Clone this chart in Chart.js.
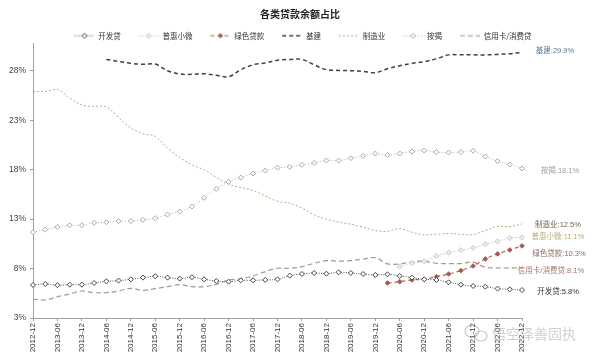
<!DOCTYPE html>
<html>
<head>
<meta charset="utf-8">
<script src="https://cdn.jsdelivr.net/npm/chart.js@4.4.1/dist/chart.umd.min.js"></script>
<style>
  html, body { margin: 0; padding: 0; background: #fff; }
  #wrap { width: 600px; height: 360px; }
</style>
</head>
<body>
<div id="wrap"><canvas id="c" width="600" height="360"></canvas></div>
<script>
// quarterly categories, only every other one gets a label on the axis
const quarters = [
  '2012-12','2013-03','2013-06','2013-09','2013-12','2014-03','2014-06','2014-09','2014-12',
  '2015-03','2015-06','2015-09','2015-12','2016-03','2016-06','2016-09','2016-12',
  '2017-03','2017-06','2017-09','2017-12','2018-03','2018-06','2018-09','2018-12',
  '2019-03','2019-06','2019-09','2019-12','2020-03','2020-06','2020-09','2020-12',
  '2021-03','2021-06','2021-09','2021-12','2022-03','2022-06','2022-09','2022-12'
];

const kaifa = [6.34,6.44,6.31,6.37,6.37,6.54,6.71,6.78,6.91,7.08,
  7.22,7.08,6.98,7.12,6.91,6.74,6.67,6.81,6.81,6.85,
  6.91,7.28,7.45,7.55,7.48,7.62,7.55,7.45,7.35,7.42,
  7.25,7.08,6.91,6.85,6.61,6.37,6.24,6.17,5.97,5.90,5.83];

const puhui = [null,null,null,null,null,null,null,null,null,null,
  null,null,null,null,null,null,null,null,null,null,
  null,null,null,null,null,null,null,null,null,null,
  8.20,8.55,8.73,9.28,9.60,9.86,10.10,10.45,10.75,11.08,11.15];

const lvse = [null,null,null,null,null,null,null,null,null,null,
  null,null,null,null,null,null,null,null,null,null,
  null,null,null,null,null,null,null,null,null,6.54,
  6.67,6.85,6.91,7.18,7.45,7.79,8.26,8.97,9.48,9.88,10.29];

const jijian = [null,null,null,null,null,null,29.14,28.94,28.74,28.64,
  28.67,28.00,27.67,27.63,27.70,27.53,27.39,28.10,28.60,28.78,
  29.06,29.14,29.14,28.60,28.10,28.03,28.00,27.93,27.80,28.20,
  28.50,28.74,28.91,29.20,29.60,29.60,29.60,29.60,29.65,29.72,29.85];

const zhizao = [25.90,25.90,26.10,25.24,24.53,24.39,24.36,23.27,22.20,21.65,
  21.35,20.18,19.23,18.49,17.98,17.20,16.53,16.19,15.88,15.35,
  14.80,14.60,14.10,13.43,12.99,12.69,12.48,12.18,11.84,11.77,
  12.04,11.67,11.40,11.47,11.53,11.47,11.43,11.84,12.24,12.24,12.51];

const anjie = [11.67,11.94,12.21,12.38,12.38,12.62,12.69,12.79,12.79,12.92,
  13.09,13.46,13.76,14.27,15.15,16.06,16.77,17.20,17.61,17.91,
  18.20,18.28,18.49,18.69,18.92,18.92,19.16,19.40,19.63,19.46,
  19.63,19.83,19.93,19.77,19.73,19.77,19.90,19.33,18.86,18.52,18.11];

const xinyong = [4.92,4.82,5.16,5.43,5.73,5.56,5.56,5.73,6.00,5.80,
  5.97,6.17,6.37,6.17,6.17,6.41,6.85,6.95,7.25,7.69,
  8.03,8.02,8.19,8.53,8.80,8.74,8.80,8.94,9.10,8.47,
  8.47,8.67,8.74,8.53,8.50,8.50,8.64,8.13,8.06,8.06,8.06];

const seriesNames = ['开发贷','普惠小微','绿色贷款','基建','制造业','按揭','信用卡/消费贷'];
const endValues = ['5.8','11.1','10.3','29.9','12.5','18.1','8.1'];
const yTicks = [3, 8, 13, 18, 23, 28];

// styles
const lineColors = ['#505050','#d2d2d2','#b5675e','#404040','#b3ab86','#b0b0b0','#a8968e'];
const dashes = [[1,1.5],[2,1.5],[4,3],[4,3],[2,2],[1,2],[5,3]];
const widths = [1,1,1.2,1.5,1,1,1.2];
const markers = [
  {r:2.5, fill:'#ffffff', stroke:'#444444'},
  {r:2.5, fill:'#eeeeee', stroke:'#c6c6c6'},
  {r:2.3, fill:'#a65a50', stroke:'#a65a50'},
  null, null,
  {r:2.5, fill:'#ffffff', stroke:'#a8a8a8'},
  null
];
const labelColors = ['#333333','#b8ad7e','#8a6b5e','#5b7590','#6b6648','#a0a0a0','#a3756b'];
const labelDy = [1.5, 0, 8, -1.5, 1, 2, 3];
const labelDx = [36, 36, 37, 33, 36, 38, 29];

const allData = [kaifa, puhui, lvse, jijian, zhizao, anjie, xinyong];

function makeIcon(i) {
  const cv = document.createElement('canvas');
  cv.width = 26; cv.height = 8;
  const g = cv.getContext('2d');
  g.strokeStyle = lineColors[i];
  g.lineWidth = widths[i];
  g.setLineDash(dashes[i]);
  g.beginPath(); g.moveTo(6, 4); g.lineTo(26, 4); g.stroke();
  g.setLineDash([]);
  const m = markers[i];
  if (m) {
    g.beginPath();
    g.moveTo(16, 4 - m.r); g.lineTo(16 + m.r, 4); g.lineTo(16, 4 + m.r); g.lineTo(16 - m.r, 4);
    g.closePath();
    g.fillStyle = m.fill; g.fill();
    g.strokeStyle = m.stroke; g.lineWidth = 1; g.stroke();
  }
  return cv;
}
const icons = seriesNames.map((n, i) => makeIcon(i));

const datasets = seriesNames.map(function (name, i) {
  const m = markers[i];
  return {
    label: name,
    data: allData[i],
    borderColor: lineColors[i],
    borderWidth: widths[i],
    borderDash: dashes[i],
    tension: 0.35,
    fill: false,
    pointStyle: 'rectRot',
    pointRadius: m ? m.r : 0,
    pointBorderWidth: 1,
    pointBackgroundColor: m ? m.fill : lineColors[i],
    pointBorderColor: m ? m.stroke : lineColors[i]
  };
});

// end-of-line value labels + watermark
const endLabels = {
  id: 'endLabels',
  afterDatasetsDraw(chart) {
    const ctx = chart.ctx;
    const xs = chart.scales.x, ys = chart.scales.y;
    ctx.save();
    ctx.font = '7.5px "Liberation Sans", "Noto Sans CJK SC", sans-serif';
    ctx.textAlign = 'center';
    ctx.textBaseline = 'middle';
    allData.forEach(function (d, i) {
      const last = d.length - 1;
      const x = xs.getPixelForValue(last) + labelDx[i];
      const y = ys.getPixelForValue(d[last]) + labelDy[i];
      ctx.fillStyle = labelColors[i];
      ctx.fillText(seriesNames[i] + ':' + endValues[i] + '%', x, y);
    });
    ctx.restore();
  },
  afterDraw(chart) {
    const ctx = chart.ctx;
    ctx.save();
    ctx.globalAlpha = 0.55;
    ctx.strokeStyle = '#9a9a9a';
    ctx.lineWidth = 1.2;
    ctx.beginPath(); ctx.ellipse(472, 331, 7, 6, 0, 0, Math.PI * 2); ctx.stroke();
    ctx.beginPath(); ctx.ellipse(481, 336, 6, 5, 0, 0, Math.PI * 2); ctx.stroke();
    ctx.fillStyle = '#a8a8a8';
    ctx.font = '14px "Noto Sans CJK SC", sans-serif';
    ctx.textAlign = 'left';
    ctx.textBaseline = 'middle';
    ctx.fillText('悟空泽善固执', 492, 334);
    ctx.restore();
  }
};

Chart.defaults.font.family = '"Liberation Sans", "Noto Sans CJK SC", sans-serif';
Chart.defaults.color = '#333';

new Chart(document.getElementById('c'), {
  type: 'line',
  data: { labels: quarters, datasets: datasets },
  options: {
    responsive: false,
    animation: false,
    layout: { padding: 0 },
    plugins: {
      title: {
        display: true,
        text: '各类贷款余额占比',
        color: '#222',
        font: { size: 10, weight: 'bold', family: '"Noto Sans CJK SC", sans-serif' },
        padding: { top: 8, bottom: 0 }
      },
      legend: {
        display: true,
        maxHeight: 23,
        labels: {
          usePointStyle: true,
          pointStyleWidth: 26,
          boxHeight: 8,
          padding: 12,
          color: '#333',
          font: { size: 7.5, family: '"Noto Sans CJK SC", sans-serif' },
          generateLabels: function (chart) {
            const items = Chart.defaults.plugins.legend.labels.generateLabels(chart);
            items.sort(function (a, b) { return a.datasetIndex - b.datasetIndex; });
            items.forEach(function (it) { it.pointStyle = icons[it.datasetIndex]; });
            return items;
          }
        }
      },
      tooltip: { enabled: false }
    },
    scales: {
      x: {
        type: 'category',
        offset: false,
        afterFit: function (s) { s.height = 42; },
        grid: {
          display: true,
          drawOnChartArea: false,
          drawTicks: true,
          tickLength: 3,
          color: function (c) { return c.index % 2 === 0 ? '#a0a0a0' : 'rgba(0,0,0,0)'; }
        },
        border: { display: true, color: '#a0a0a0' },
        ticks: {
          autoSkip: false,
          minRotation: 90,
          maxRotation: 90,
          padding: 2,
          color: '#333',
          font: { size: 8 },
          callback: function (v, i) { return i % 2 === 0 ? this.getLabelForValue(v) : ''; }
        }
      },
      y: {
        type: 'linear',
        min: 3,
        max: 30.8,
        afterFit: function (s) { s.width = 33; },
        afterBuildTicks: function (s) { s.ticks = yTicks.map(function (v) { return { value: v }; }); },
        grid: {
          display: true,
          drawOnChartArea: false,
          drawTicks: true,
          tickLength: 3,
          color: '#a0a0a0'
        },
        border: { display: true, color: '#a0a0a0' },
        ticks: {
          padding: 4,
          color: '#444',
          font: { size: 8.5 },
          callback: function (v) { return v + '%'; }
        }
      },
      pad: {
        type: 'linear',
        position: 'right',
        display: true,
        afterFit: function (s) { s.width = 78; },
        grid: { display: false },
        border: { display: false },
        ticks: { display: false }
      }
    }
  },
  plugins: [endLabels]
});
</script>
</body>
</html>
